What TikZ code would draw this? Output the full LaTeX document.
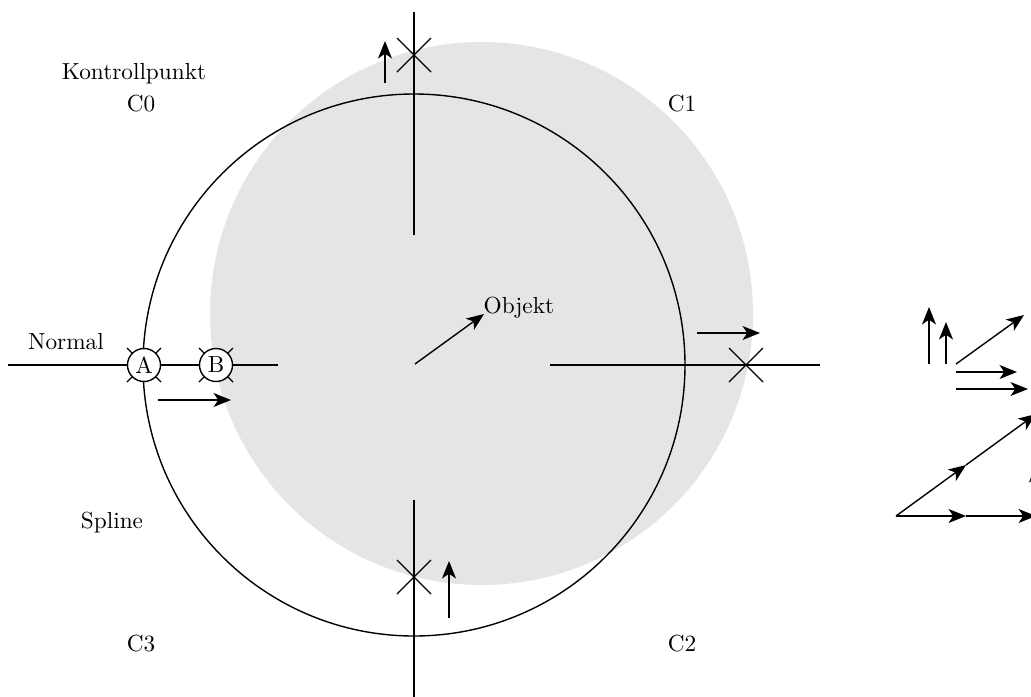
\documentclass[tikz,border=0pt]{standalone}
\usetikzlibrary{arrows.meta}
\begin{document}
\begin{tikzpicture}[x=0.43pt,y=-0.43pt,line width=0.6pt,
  vec/.style={-{Stealth[length=7.5pt,width=6pt,inset=2pt]}},
  lbl/.style={inner sep=0pt,anchor=base},
  pt/.style={circle,draw,fill=white,minimum size=14.2pt,inner sep=0pt},
  xcross/.pic={\draw (-17,-17)--(17,17) (-17,17)--(17,-17);}]
\useasboundingbox (0,0) rectangle (1031,696);
\clip (0,0) rectangle (1031,696);
% shaded circle and main circle
\fill[black!10] (481.5,313.5) circle[radius=271.5];
\draw (414,365) circle[radius=271];
% axis lines
\coordinate (t1) at (414,12);   \coordinate (t2) at (414,235);
\coordinate (b1) at (414,500);  \coordinate (b2) at (414,700);
\coordinate (l1) at (8,365);    \coordinate (l2) at (278,365);
\coordinate (r1) at (550,365);  \coordinate (r2) at (820,365);
\draw (t1) -- (t2);
\draw (b1) -- (b2);
\draw (l1) -- (l2);
\draw (r1) -- (r2);
% crosses
\pic at (414,55) {xcross};
\pic at (746,365) {xcross};
\pic at (414,577) {xcross};
\pic at (144,365) {xcross};
\pic at (216,365) {xcross};
\node[pt] (A) at (144,365) {A};
\node[pt] (B) at (216,365) {B};
% arrows
\coordinate (a1s) at (385,83);  \coordinate (a1e) at (385,41);
\coordinate (a2s) at (449,618); \coordinate (a2e) at (449,561);
\coordinate (a3s) at (697,333); \coordinate (a3e) at (760,333);
\coordinate (a4s) at (158,400); \coordinate (a4e) at (231,400);
\coordinate (o)   at (415,364); \coordinate (oe)  at (484,314);
\draw[vec] (a1s) -- (a1e);
\draw[vec] (a2s) -- (a2e);
\draw[vec] (a3s) -- (a3e);
\draw[vec] (a4s) -- (a4e);
\draw[vec] (o) -- (oe);
% labels
\node[lbl] (kp) at (134,79) {Kontrollpunkt};
\node[lbl] (c0) at (141,111) {C0};
\node[lbl] (c1) at (682,111) {C1};
\node[lbl] (c3) at (141,651) {C3};
\node[lbl] (c2) at (682,651) {C2};
\node[lbl] (nm) at (66,349) {Normal};
\node[lbl] (sp) at (112,528) {Spline};
\node[inner sep=0pt,anchor=base west] (obj) at (483,313) {Objekt};
% right figure
\coordinate (u1s) at (929,364); \coordinate (u1e) at (929,307);
\coordinate (u2s) at (946,364); \coordinate (u2e) at (946,322);
\coordinate (d1s) at (956,364); \coordinate (d1e) at (1024,315);
\coordinate (h1s) at (956,372); \coordinate (h1e) at (1017,372);
\coordinate (h2s) at (956,389); \coordinate (h2e) at (1028,389);
\draw[vec] (u1s) -- (u1e);
\draw[vec] (u2s) -- (u2e);
\draw[vec] (d1s) -- (d1e);
\draw[vec] (h1s) -- (h1e);
\draw[vec] (h2s) -- (h2e);
\coordinate (p0) at (896,516);
\coordinate (pm) at (966,465);
\coordinate (pd) at (1036,414);
\coordinate (qm) at (966,516);
\coordinate (qe) at (1036,516);
\coordinate (vm) at (1036,465);
\draw[vec] (p0) -- (pm);
\draw[vec] (pm) -- (pd);
\draw[vec] (p0) -- (qm);
\draw[vec] (qm) -- (qe);
\draw[vec] (qe) -- (vm);
\draw (vm) -- (pd);
\end{tikzpicture}
\end{document}
